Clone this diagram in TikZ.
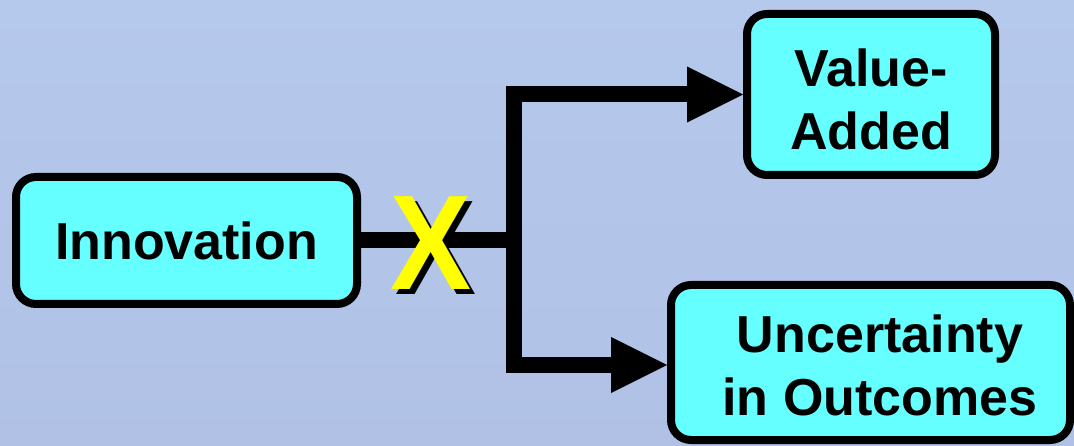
\documentclass[tikz,border=0pt]{standalone}
\usepackage{fontspec}
\setmainfont{Liberation Sans}
\usetikzlibrary{arrows.meta}
\definecolor{bgtop}{RGB}{181,201,236}
\definecolor{bgbot}{RGB}{176,193,229}
\definecolor{boxfill}{RGB}{102,255,255}
\definecolor{xyellow}{RGB}{255,255,0}
\begin{document}
\begin{tikzpicture}[x=1pt,y=-1pt,
  box/.style={draw=black,line width=8pt,fill=boxfill,rounded corners=20pt,inner sep=0pt},
  boxtext/.style={font=\bfseries\fontsize{52}{63}\selectfont,align=center,inner sep=0pt},
  conn/.style={line width=16pt,black},
  arrowed/.style={-{Triangle[length=56pt,width=56pt,line width=0pt]}},
  bigx/.style={font=\bfseries\fontsize{135}{135}\selectfont,inner sep=0pt,xscale=0.9}]
% background
\shade[top color=bgtop,bottom color=bgbot] (0,0) rectangle (1074,446);
\useasboundingbox (0,0) rectangle (1074,446);

% boxes
\node[box,minimum width=341pt,minimum height=127pt] (inno) at (186.5,240.5) {};
\node[box,minimum width=248pt,minimum height=161pt] (va) at (871,94.5) {};
\node[box,minimum width=399pt,minimum height=155pt] (uo) at (870.5,362.5) {};

% box texts
\node[boxtext] (innoT) at (186.5,241) {Innovation};
\node[boxtext] (vaT) at (871,99) {Value-\\Added};
\node[boxtext] (uoT) at (880,365) {Uncertainty\\in Outcomes};

% connectors
\coordinate (split) at (514,240.5);
\draw[conn] (inno.east) -- ([xshift=8pt]split);
\draw[conn,arrowed] (split) |- (va.west);
\draw[conn,arrowed] (split) |- ([yshift=-2.5pt]uo.west);

% the crossing mark with its shadow
\node[bigx,text=black] (xshadow) at (436.5,248) {X};
\node[bigx,text=xyellow] (xmark) at (431.5,243) {X};
\end{tikzpicture}
\end{document}
